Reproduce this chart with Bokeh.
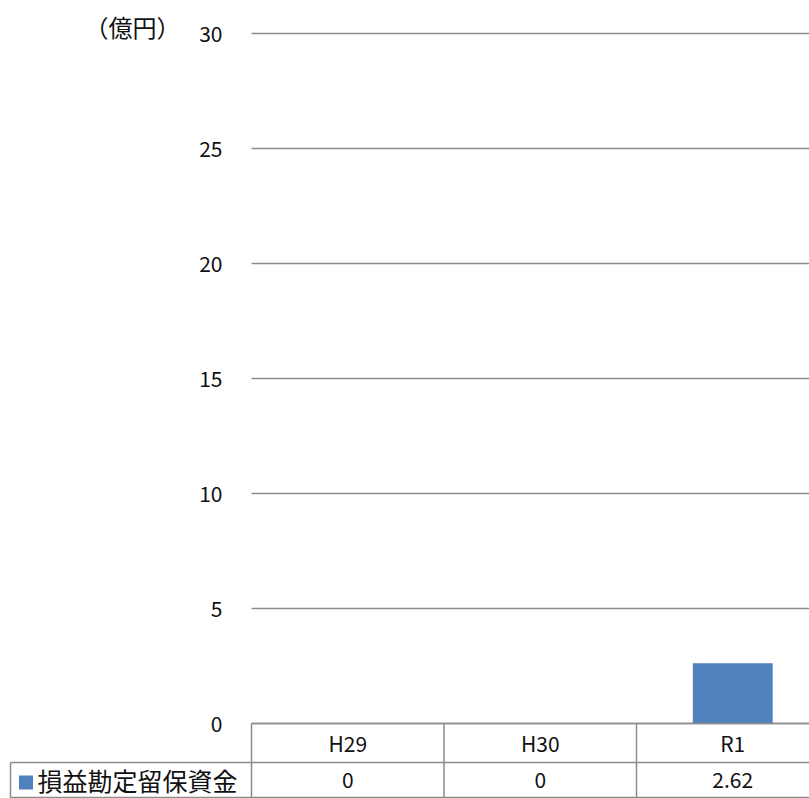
from bokeh.plotting import figure
from bokeh.models import Range1d, ColumnDataSource
from bokeh.core.properties import value
from bokeh.embed import file_html
from bokeh.resources import INLINE

# ---- data ----
categories = ["H29", "H30", "R1"]
values = [0, 0, 2.62]
series_name = "損益勘定留保資金"
y_ticks = [0, 5, 10, 15, 20, 25, 30]
unit_label = "（億円）"

# ---- layout constants (pixels -> data) ----
W, H = 809, 798
PX_X = 192.5          # pixels per category
PX_Y = 23.0           # pixels per unit (億円)
LEFT = 251            # left edge of first category column
ZERO = 723            # pixel row of value 0

def dx(px):
    return (px - LEFT) / PX_X

def dy(py):
    return (ZERO - py) / PX_Y

FONT = value("Noto Sans CJK JP")
GRAY = "#8c8c8c"
BLUE = "#4F81BD"
TXT = "#111111"

p = figure(width=W, height=H, output_backend="svg", toolbar_location=None,
           x_axis_location=None, y_axis_location=None,
           x_range=Range1d(dx(0), dx(W)), y_range=Range1d(dy(H), dy(0)),
           min_border=0)
p.min_border_left = p.min_border_right = p.min_border_top = p.min_border_bottom = 0
p.grid.visible = False
p.outline_line_color = None
p.background_fill_color = "white"
p.border_fill_color = "white"

n = len(categories)
centers = [i + 0.5 for i in range(n)]
x_end = dx(W) + 0.5

# gridlines
p.segment(x0=[0] * len(y_ticks), x1=[x_end] * len(y_ticks), y0=y_ticks, y1=y_ticks,
          line_color=GRAY, line_width=1.5)

# tick labels
p.text(x=[dx(222)] * len(y_ticks), y=y_ticks, text=[str(t) for t in y_ticks],
       text_align="right", text_baseline="middle", text_font=FONT,
       text_font_size="21px", text_color=TXT)

# unit label
p.text(x=[dx(180)], y=[dy(26)], text=[unit_label], text_align="right",
       text_baseline="middle", text_font=FONT, text_font_size="24px",
       text_color=TXT)

# bars
src = ColumnDataSource(dict(x=centers, top=values))
p.vbar(x="x", top="top", bottom=0, width=0.415, source=src,
       fill_color=BLUE, line_color=None)

# ---- data table ----
row1_bottom = dy(762)
table_bottom = dy(797)
legend_left = dx(10)

# horizontal lines
p.segment(x0=[0, legend_left, legend_left], x1=[x_end, x_end, x_end],
          y0=[0, row1_bottom, table_bottom], y1=[0, row1_bottom, table_bottom],
          line_color=GRAY, line_width=1.5)
# vertical lines
vx = list(range(n + 1))
p.segment(x0=vx, x1=vx, y0=[0] * len(vx), y1=[dy(H) - 1] * len(vx),
          line_color=GRAY, line_width=1.5)
p.segment(x0=[legend_left], x1=[legend_left], y0=[row1_bottom], y1=[dy(H) - 1],
          line_color=GRAY, line_width=1.5)

# header labels
p.text(x=centers, y=[dy(742)] * n, text=categories, text_align="center",
       text_baseline="middle", text_font=FONT, text_font_size="21px",
       text_color=TXT)
# values
p.text(x=centers, y=[dy(779)] * n, text=[f"{v:g}" for v in values],
       text_align="center", text_baseline="middle", text_font=FONT,
       text_font_size="21px", text_color=TXT)

# legend key + series name
p.rect(x=[dx(25.5)], y=[dy(782)], width=14, height=14, width_units="screen",
       height_units="screen", fill_color=BLUE, line_color=None)
p.text(x=[dx(37)], y=[dy(779)], text=[series_name], text_align="left",
       text_baseline="middle", text_font=FONT, text_font_size="25px",
       text_color=TXT)

open("out.html", "w").write(file_html(p, INLINE))
